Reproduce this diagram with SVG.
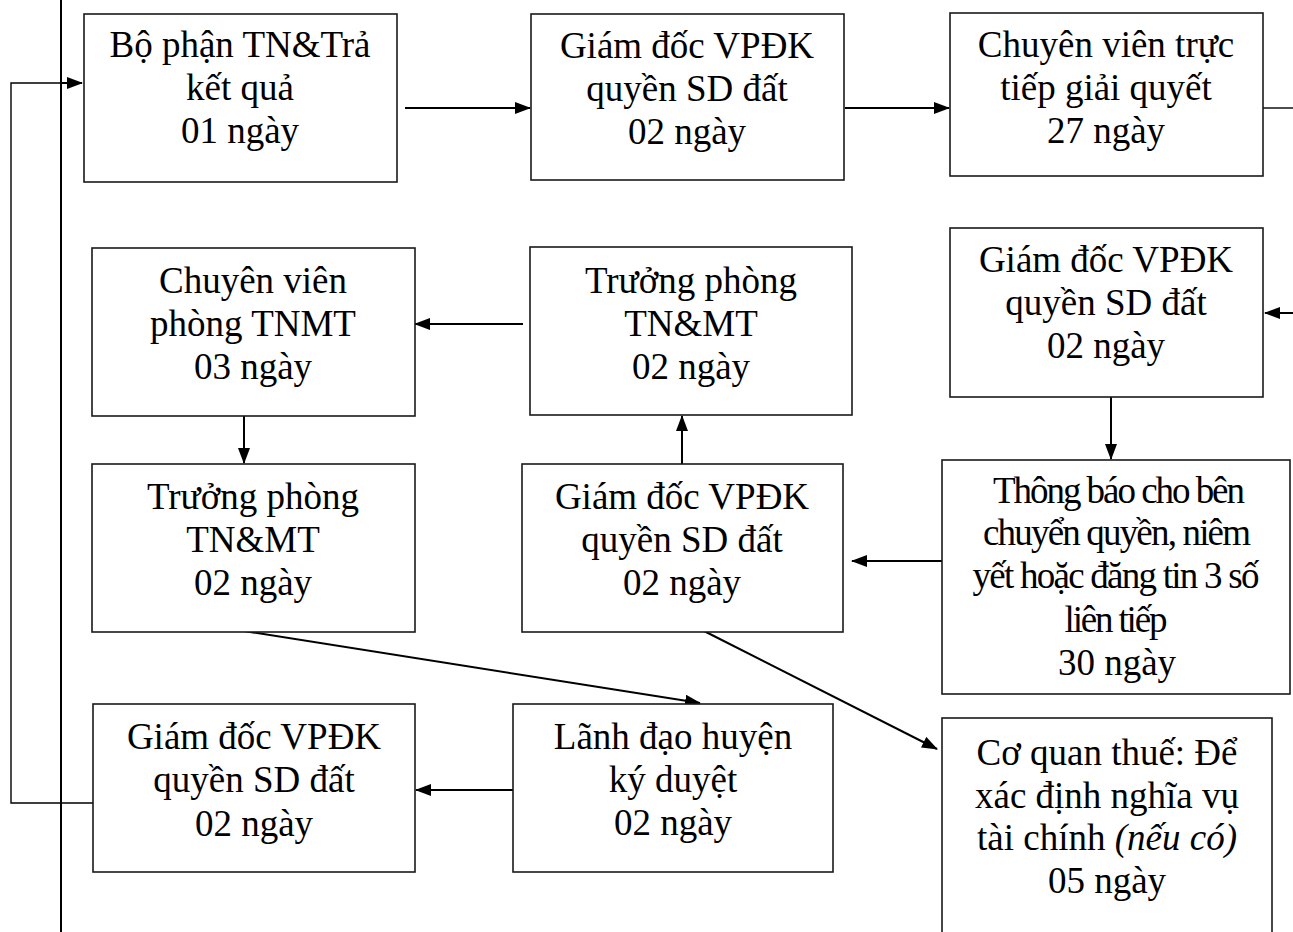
<svg xmlns="http://www.w3.org/2000/svg" width="1293" height="932" viewBox="0 0 1293 932">
<style>
.box{fill:#fff;stroke:#1a1a1a;stroke-width:1.6}
.t{font-family:"Liberation Serif","Times New Roman",serif;font-size:37px;fill:#000;text-anchor:middle}
.c{fill:none;stroke:#000;stroke-width:2}
.thin{fill:none;stroke:#000;stroke-width:1.4}
</style>
<defs>
<marker id="ah" markerUnits="userSpaceOnUse" markerWidth="16" markerHeight="12" refX="15" refY="6" orient="auto">
<path d="M0,0 L16,6 L0,12 Z" fill="#000"/>
</marker>
</defs>
<rect width="1293" height="932" fill="#fff"/>
<g id="connectors">
<line class="c" x1="61" y1="0" x2="61" y2="932"/>
<polyline class="thin" points="93,803 11,803 11,83 60,83"/>
<line class="c" x1="60" y1="83" x2="82" y2="83" marker-end="url(#ah)"/>
<line class="c" x1="405" y1="108" x2="530" y2="108" marker-end="url(#ah)"/>
<line class="c" x1="845" y1="108" x2="949" y2="108" marker-end="url(#ah)"/>
<line class="thin" x1="1263" y1="108" x2="1293" y2="108"/>
<line class="c" x1="1293" y1="313" x2="1265" y2="313" marker-end="url(#ah)"/>
<line class="c" x1="1111" y1="397" x2="1111" y2="459" marker-end="url(#ah)"/>
<line class="c" x1="942" y1="561" x2="852" y2="561" marker-end="url(#ah)"/>
<line class="c" x1="682" y1="464" x2="682" y2="416" marker-end="url(#ah)"/>
<line class="c" x1="523" y1="324" x2="415" y2="324" marker-end="url(#ah)"/>
<line class="c" x1="244" y1="416" x2="244" y2="463" marker-end="url(#ah)"/>
<line class="c" x1="244" y1="631" x2="700" y2="703" marker-end="url(#ah)"/>
<line class="c" x1="704" y1="631" x2="937" y2="749" marker-end="url(#ah)"/>
<line class="c" x1="513" y1="790" x2="416" y2="790" marker-end="url(#ah)"/>
</g>
<g id="n1">
<rect class="box" x="84" y="14" width="313" height="168"/>
<text class="t" x="240" y="57">Bộ phận TN&amp;Trả</text>
<text class="t" x="240" y="100">kết quả</text>
<text class="t" x="240" y="143">01 ngày</text>
</g>
<g id="n2">
<rect class="box" x="531" y="14" width="313" height="166"/>
<text class="t" x="687" y="58">Giám đốc VPĐK</text>
<text class="t" x="687" y="101">quyền SD đất</text>
<text class="t" x="687" y="144">02 ngày</text>
</g>
<g id="n3">
<rect class="box" x="950" y="13" width="313" height="163"/>
<text class="t" x="1106" y="57">Chuyên viên trực</text>
<text class="t" x="1106" y="100">tiếp giải quyết</text>
<text class="t" x="1106" y="143">27 ngày</text>
</g>
<g id="n4">
<rect class="box" x="950" y="228" width="313" height="169"/>
<text class="t" x="1106" y="272">Giám đốc VPĐK</text>
<text class="t" x="1106" y="315">quyền SD đất</text>
<text class="t" x="1106" y="358">02 ngày</text>
</g>
<g id="n5">
<rect class="box" x="942" y="460" width="348" height="234"/>
<text class="t" x="1119" y="503" textLength="252" lengthAdjust="spacing">Thông báo cho bên</text>
<text class="t" x="1117" y="545" textLength="268" lengthAdjust="spacing">chuyển quyền, niêm</text>
<text class="t" x="1116" y="588" textLength="287" lengthAdjust="spacing">yết hoặc đăng tin 3 số</text>
<text class="t" x="1116" y="632" textLength="103" lengthAdjust="spacing">liên tiếp</text>
<text class="t" x="1117" y="675">30 ngày</text>
</g>
<g id="n6">
<rect class="box" x="942" y="718" width="330" height="230"/>
<text class="t" x="1107" y="765">Cơ quan thuế: Để</text>
<text class="t" x="1107" y="808">xác định nghĩa vụ</text>
<text class="t" x="1107" y="850">tài chính <tspan font-style="italic">(nếu có)</tspan></text>
<text class="t" x="1107" y="893">05 ngày</text>
</g>
<g id="n7">
<rect class="box" x="92" y="248" width="323" height="168"/>
<text class="t" x="253" y="293">Chuyên viên</text>
<text class="t" x="253" y="336">phòng TNMT</text>
<text class="t" x="253" y="379">03 ngày</text>
</g>
<g id="n8">
<rect class="box" x="92" y="464" width="323" height="168"/>
<text class="t" x="253" y="509">Trưởng phòng</text>
<text class="t" x="253" y="552">TN&amp;MT</text>
<text class="t" x="253" y="595">02 ngày</text>
</g>
<g id="n9">
<rect class="box" x="530" y="247" width="322" height="168"/>
<text class="t" x="691" y="293">Trưởng phòng</text>
<text class="t" x="691" y="336">TN&amp;MT</text>
<text class="t" x="691" y="379">02 ngày</text>
</g>
<g id="n10">
<rect class="box" x="522" y="464" width="321" height="168"/>
<text class="t" x="682" y="509">Giám đốc VPĐK</text>
<text class="t" x="682" y="552">quyền SD đất</text>
<text class="t" x="682" y="595">02 ngày</text>
</g>
<g id="n11">
<rect class="box" x="513" y="704" width="320" height="168"/>
<text class="t" x="673" y="749">Lãnh đạo huyện</text>
<text class="t" x="673" y="792">ký duyệt</text>
<text class="t" x="673" y="835">02 ngày</text>
</g>
<g id="n12">
<rect class="box" x="93" y="704" width="322" height="168"/>
<text class="t" x="254" y="749">Giám đốc VPĐK</text>
<text class="t" x="254" y="792">quyền SD đất</text>
<text class="t" x="254" y="836">02 ngày</text>
</g>
</svg>
